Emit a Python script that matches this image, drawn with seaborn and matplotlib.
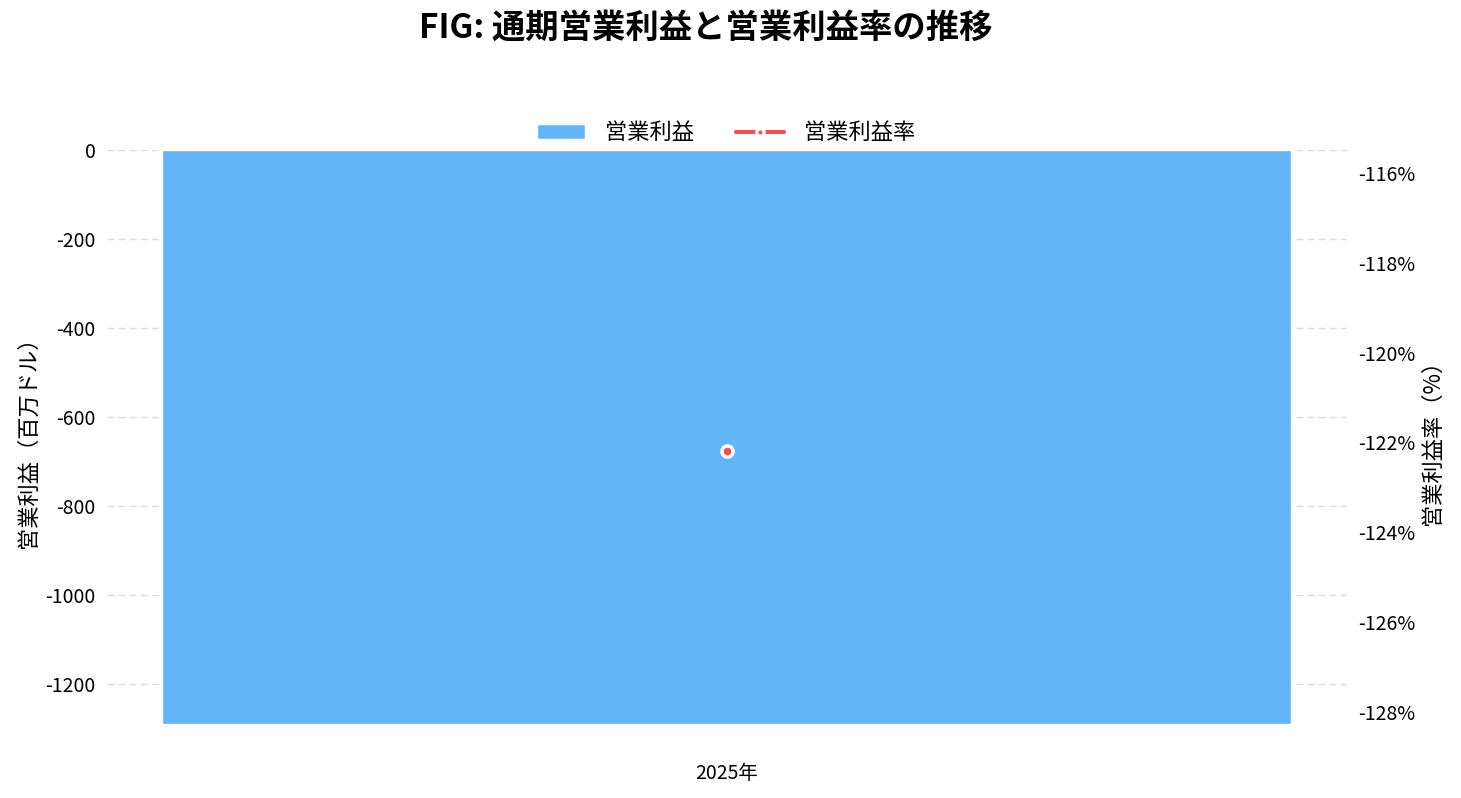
import matplotlib
matplotlib.use("Agg")
import matplotlib.pyplot as plt
import pandas as pd
import seaborn as sns

years = ["2025年"]
operating_income = [-1290]
operating_margin = [-122.2]

sns.set_theme(style="white")
plt.rcParams["font.family"] = ["Noto Sans CJK JP", "DejaVu Sans"]
plt.rcParams["axes.unicode_minus"] = False
plt.rcParams["text.color"] = "black"
plt.rcParams["axes.labelcolor"] = "black"
plt.rcParams["xtick.color"] = "black"
plt.rcParams["ytick.color"] = "black"

df = pd.DataFrame({"year": years, "income": operating_income, "margin": operating_margin})

fig, ax = plt.subplots(figsize=(14.61, 7.98), dpi=100)
fig.subplots_adjust(left=0.073, right=0.922, top=0.812, bottom=0.093)

sns.barplot(data=df, x="year", y="income", color="#64B5F6", saturation=1,
            width=0.91, ax=ax, label="営業利益", zorder=2)
ax.set_xlim(-0.5, 0.5)
ax.set_ylim(-1290, 0)
ax.set_yticks(range(-1200, 1, 200))
ax.grid(axis="y", linestyle=(0, (5, 3)), color="#dddddd", linewidth=1, zorder=0)
ax.set_axisbelow(True)
ax.set_xlabel("")
ax.set_ylabel("営業利益（百万ドル）", fontsize=16, labelpad=4)
ax.tick_params(axis="both", length=0, labelsize=14, pad=8)
ax.tick_params(axis="x", pad=28)

ax2 = ax.twinx()
sns.lineplot(data=df, x="year", y="margin", ax=ax2, color="#EF5350",
             linestyle="-.", linewidth=2.5, marker="o", markersize=8,
             markerfacecolor="#EF5350", markeredgecolor="white",
             markeredgewidth=2.5, label="営業利益率", legend=False)
ax2.set_ylim(-128.27, -115.49)
ax2.set_yticks(range(-128, -115, 2))
ax2.set_yticklabels([f"{v}%" for v in range(-128, -115, 2)])
ax2.set_ylabel("営業利益率（%）", fontsize=16, labelpad=4)
ax2.tick_params(axis="y", length=0, labelsize=14, pad=8)
ax2.grid(False)

for a in (ax, ax2):
    for s in a.spines.values():
        s.set_visible(False)

h1, l1 = ax.get_legend_handles_labels()
h2, l2 = ax2.get_legend_handles_labels()
if ax.get_legend():
    ax.get_legend().remove()
leg = fig.legend(h1 + h2, l1 + l2, loc="upper center", bbox_to_anchor=(0.497, 0.873),
                 ncol=2, frameon=False, fontsize=16, handlelength=2.15,
                 handletextpad=0.9, columnspacing=1.9)
# legend line: solid stroke, the white-edged marker opens the gap around the dot
for line in leg.get_lines():
    line.set_linewidth(3)
    line.set_linestyle("-")
    line.set_markersize(5.3)
    line.set_markeredgewidth(2.3)

fig.suptitle("FIG: 通期営業利益と営業利益率の推移", fontsize=24, fontweight="bold", y=0.985, x=0.483)

fig.savefig("out.png", dpi=100)
